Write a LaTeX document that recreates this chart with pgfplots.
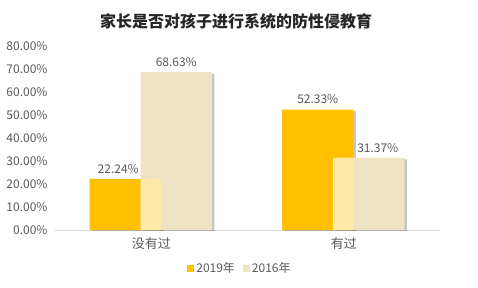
\documentclass[border=0pt]{standalone}
\usepackage{pgfplots}
\pgfplotsset{compat=1.18}
\usepackage{fontspec}
\setmainfont{Noto Sans CJK SC}
\usetikzlibrary{shadows}
\definecolor{gold}{HTML}{FFC000}
\definecolor{beige}{HTML}{EFE3C3}
\definecolor{lapyel}{HTML}{FFE8A8}
\definecolor{txt}{HTML}{595959}
\definecolor{axl}{HTML}{D9D9D9}
\begin{document}
\begin{tikzpicture}
\useasboundingbox (-55pt,-57pt) rectangle (423pt,230pt);
\begin{axis}[
  at={(0pt,0pt)}, anchor=south west,
  scale only axis, width=385pt, height=184pt,
  xmin=-0.5, xmax=1.5, ymin=0, ymax=80,
  axis x line*=bottom, axis y line*=left,
  x axis line style={axl, line width=0.8pt, -},
  y axis line style={draw=none, -},
  ytick={0,10,...,80},
  xtick={0,1}, xticklabels={没有过,有过},
  major tick length=0pt,
  /pgf/number format/assume math mode=true,
  yticklabel={\pgfmathprintnumber[fixed,fixed zerofill,precision=2]{\tick}\%},
  yticklabel style={font=\fontsize{12}{14}\selectfont, text=txt, xshift=-4pt},
  xticklabel style={font=\fontsize{13}{15}\selectfont, text=txt, yshift=-4pt},
  clip=true,
  nodes near coords style={font=\fontsize{12}{14}\selectfont, text=txt, yshift=2pt},
  legend style={draw=none, fill=none, at={(0.4805,-0.2065)}, anchor=center,
     legend columns=2, font=\fontsize{12}{14}\selectfont, text=txt,
     /tikz/every even column/.append style={column sep=6pt}},
  legend image code/.code={\fill[#1] (0pt,-3.5pt) rectangle (7pt,3.5pt);},
  bar shift=0pt,
]
\addplot[ybar, bar width=0.37, fill=gold, draw=none, forget plot,
  drop shadow={shadow xshift=2.5pt, shadow yshift=-1.5pt, opacity=0.22, fill=black}]
  coordinates {(-0.135,22.24) (0.865,52.33)};
\addplot[ybar, bar width=0.37, fill=beige, draw=none, forget plot,
  drop shadow={shadow xshift=2.5pt, shadow yshift=-1.5pt, opacity=0.22, fill=black}]
  coordinates {(0.13,68.63) (1.13,31.37)};
\addplot[ybar, bar width=0.105, fill=lapyel, draw=none, forget plot]
  coordinates {(-0.0025,22.24) (0.9975,31.37)};
\addplot[only marks, mark=none, forget plot, point meta=explicit,
  nodes near coords={\pgfmathprintnumber[fixed,fixed zerofill,precision=2]{\pgfplotspointmeta}\%}]
  coordinates {(0.865,52.33) [52.33] (0.13,68.63) [68.63]};
\addplot[only marks, mark=none, forget plot, point meta=explicit,
  nodes near coords={\pgfmathprintnumber[fixed,fixed zerofill,precision=2]{\pgfplotspointmeta}\%},
  every node near coord/.append style={xshift=-7pt}]
  coordinates {(-0.135,22.24) [22.24]};
\addplot[only marks, mark=none, forget plot, point meta=explicit,
  nodes near coords={\pgfmathprintnumber[fixed,fixed zerofill,precision=2]{\pgfplotspointmeta}\%},
  every node near coord/.append style={xshift=9pt}]
  coordinates {(1.13,31.37) [31.37]};
\addlegendimage{fill=gold, draw=none}
\addlegendentry{2019年}
\addlegendimage{fill=beige, draw=none}
\addlegendentry{2016年}
\end{axis}
\node[anchor=west, font=\fontsize{16}{19}\selectfont\bfseries, text=black!85, inner sep=0pt] at (45pt,209pt) {家长是否对孩子进行系统的防性侵教育};
\end{tikzpicture}
\end{document}
